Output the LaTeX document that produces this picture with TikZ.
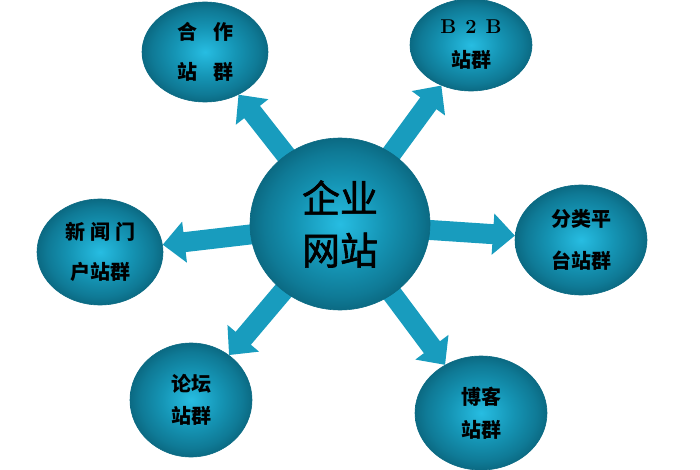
\documentclass[tikz,border=0pt]{standalone}
\usepackage{fontspec}
\newfontfamily\cjk{Noto Sans CJK SC}
\newfontfamily\cjkhub{Noto Sans CJK SC}[FakeBold=1.6]
\usetikzlibrary{arrows.meta,shapes.geometric,backgrounds}

\definecolor{discin}{HTML}{27BDE2}
\definecolor{discmid}{HTML}{1595B5}
\definecolor{discrim}{HTML}{0F7A96}
\definecolor{discout}{HTML}{0B6A83}
\definecolor{flowcol}{HTML}{189CBE}
\pgfdeclareradialshading{discshade}{\pgfpoint{0bp}{0bp}}{color(0bp)=(discin); color(12bp)=(discmid); color(21bp)=(discrim); color(25bp)=(discout); color(50bp)=(discout)}

\begin{document}
\begin{tikzpicture}[x=1pt,y=-1pt,
    disc/.style={ellipse,shade,shading=discshade,draw=discout,line width=0.6pt,
      inner sep=0pt,align=center,text=black,
      font=\cjk\bfseries\fontsize{20}{36}\selectfont},
    flow/.style={line width=20pt,draw=flowcol,
      -{Triangle[length=22pt,width=40pt]}}]
    \useasboundingbox (0,0) rectangle (700,470);

    \node [disc,minimum width=180pt,minimum height=172pt,
      font=\cjkhub\fontsize{38}{52}\selectfont] (hub) at (340,224) {企业\\网站};

    \node [disc,minimum width=126pt,minimum height=100pt] (coop) at (205,52)
      {合\hspace{0.8em}作\\[4pt]站\hspace{0.8em}群};
    \node [disc,minimum width=122pt,minimum height=92pt] (b2b) at (471,45)
      {{\rmfamily\bfseries B\hspace{9pt}2\hspace{9pt}B}\\[-2pt]站群};
    \node [disc,minimum width=132pt,minimum height=110pt] (cat) at (581,240)
      {分类平\\[6pt]台站群};
    \node [disc,minimum width=126pt,minimum height=106pt] (news) at (100,252)
      {新\hspace{0.25em}闻\hspace{0.25em}门\\[4pt]户站群};
    \node [disc,minimum width=122pt,minimum height=114pt] (forum) at (191,400)
      {论坛\\[-4pt]站群};
    \node [disc,minimum width=132pt,minimum height=114pt] (blog) at (481,413)
      {博客\\[-3pt]站群};

    \begin{scope}[on background layer]
        \foreach \target in {coop,b2b,cat,news,forum,blog}
            \draw [flow] (hub.center) -- (\target);
    \end{scope}
\end{tikzpicture}
\end{document}
